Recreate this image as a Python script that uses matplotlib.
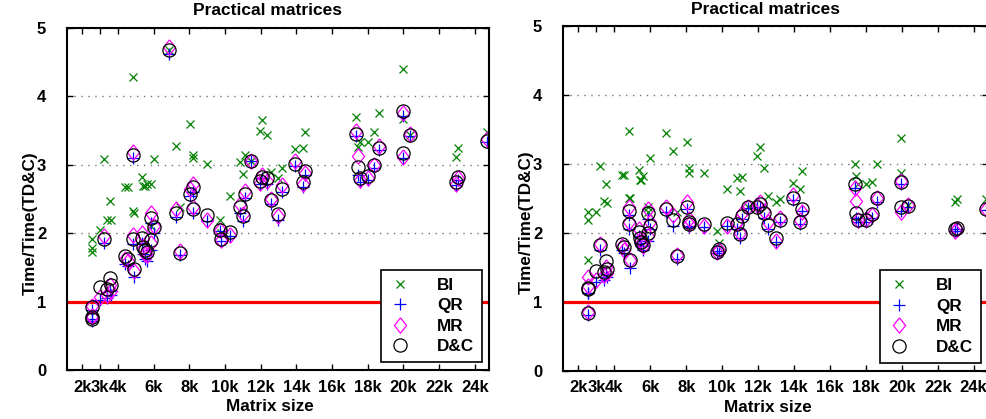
import matplotlib
matplotlib.use("Agg")
import matplotlib.pyplot as plt

plt.rcParams['font.family'] = ['Liberation Sans', 'DejaVu Sans']
plt.rcParams['font.weight'] = 'bold'

# matrix sizes (same test set in both panels)
sizes = [2540, 2540, 2540, 3000, 3200, 3400, 3550, 3600, 4400, 4550, 4820, 4840, 4880,
         5350, 5400, 5500, 5600, 5850, 5850, 6000, 6870, 7250, 7470, 8030, 8180, 8180,
         9000, 9700, 9800, 10270, 10830, 10980, 11100, 11430, 11950, 12100, 12330, 12550,
         12980, 13200, 13950, 14350, 14470, 17370, 17450, 17560, 18020, 18360, 18620,
         19980, 19980, 20360, 22970, 23060, 24690]

# left panel: time / time(TD&C)
bi_left = [1.92, 1.78, 1.72, 2.05, 3.09, 2.20, 2.47, 2.20, 2.68, 2.68, 4.28, 2.33, 2.30,
           2.82, 2.69, 2.69, 2.72, 2.72, 2.10, 3.09, 4.68, 3.28, 2.38, 3.59, 3.14, 3.10,
           3.01, 2.20, 2.00, 2.54, 3.04, 2.86, 3.15, 3.05, 3.50, 3.65, 3.43, 2.90,
           2.80, 2.96, 3.23, 3.25, 3.48, 3.70, 3.26, 3.33, 3.33, 3.48, 3.75,
           4.40, 3.67, 3.43, 3.12, 3.25, 3.48]
qr_left = [0.88, 0.74, 0.72, 1.03, 1.86, 1.05, 1.15, 1.10, 1.55, 1.52, 3.10, 1.84, 1.36,
           1.85, 1.70, 1.62, 1.60, 2.15, 1.75, 2.00, 4.62, 2.24, 1.68, 2.55, 2.60, 2.30,
           2.18, 2.03, 1.88, 1.96, 2.30, 2.18, 2.52, 3.05, 2.72, 2.80, 2.72, 2.42,
           2.20, 2.60, 2.98, 2.68, 2.85, 3.42, 2.85, 2.75, 2.78, 2.95, 3.22,
           3.72, 3.10, 3.42, 2.70, 2.78, 3.33]
mr_left = [0.94, 0.79, 0.77, 1.07, 1.96, 1.10, 1.25, 1.15, 1.62, 1.60, 3.18, 1.98, 1.45,
           2.00, 1.78, 1.70, 1.68, 2.30, 1.85, 2.10, 4.72, 2.35, 1.74, 2.65, 2.72, 2.38,
           2.20, 2.05, 1.90, 1.98, 2.42, 2.28, 2.62, 3.05, 2.74, 2.85, 2.77, 2.50,
           2.25, 2.70, 3.05, 2.72, 2.88, 3.50, 3.13, 2.78, 2.80, 3.00, 3.27,
           3.75, 3.12, 3.45, 2.72, 2.80, 3.37]
dc_left = [0.92, 0.78, 0.75, 1.21, 1.92, 1.18, 1.35, 1.25, 1.67, 1.62, 3.14, 1.91, 1.48,
           1.93, 1.80, 1.75, 1.72, 2.22, 1.90, 2.09, 4.68, 2.30, 1.71, 2.58, 2.68, 2.35,
           2.27, 2.05, 1.92, 2.02, 2.38, 2.25, 2.58, 3.05, 2.77, 2.82, 2.80, 2.48,
           2.28, 2.65, 3.01, 2.75, 2.91, 3.45, 2.97, 2.80, 2.84, 2.99, 3.25,
           3.79, 3.17, 3.43, 2.75, 2.82, 3.35]

# right panel
bi_right = [2.30, 2.18, 1.61, 2.30, 2.97, 2.46, 2.70, 2.43, 2.84, 2.84, 3.47, 2.51, 2.51,
            2.91, 2.76, 2.76, 2.82, 2.37, 2.30, 3.09, 3.45, 3.18, 2.30, 3.32, 2.94, 2.86,
            2.86, 2.03, 1.85, 2.64, 2.79, 2.61, 2.81, 2.38, 3.11, 3.24, 2.94, 2.53,
            2.45, 2.49, 2.72, 2.64, 2.90, 3.00, 2.82, 2.71, 2.71, 2.74, 2.99,
            3.37, 2.87, 2.40, 2.45, 2.49, 2.49]
qr_right = [1.13, 1.12, 0.80, 1.28, 1.75, 1.32, 1.40, 1.35, 1.75, 1.70, 2.25, 2.05, 1.49,
            1.95, 1.85, 1.80, 1.75, 2.20, 1.88, 2.05, 2.30, 2.10, 1.62, 2.35, 2.10, 2.08,
            2.08, 1.70, 1.73, 2.10, 2.05, 1.92, 2.20, 2.36, 2.37, 2.38, 2.22, 2.05,
            1.87, 2.15, 2.48, 2.12, 2.32, 2.65, 2.22, 2.15, 2.15, 2.22, 2.45,
            2.70, 2.32, 2.38, 2.03, 2.05, 2.33]
mr_right = [1.36, 1.22, 0.85, 1.32, 1.84, 1.38, 1.50, 1.42, 1.80, 1.75, 2.38, 2.15, 1.60,
            2.05, 1.90, 1.85, 1.80, 2.35, 1.95, 2.15, 2.38, 2.25, 1.68, 2.45, 2.20, 2.12,
            2.10, 1.72, 1.75, 2.10, 2.15, 2.00, 2.28, 2.38, 2.40, 2.45, 2.32, 2.15,
            1.88, 2.22, 2.55, 2.18, 2.30, 2.65, 2.46, 2.18, 2.20, 2.25, 2.50,
            2.75, 2.30, 2.40, 2.02, 2.05, 2.35]
dc_right = [1.19, 1.20, 0.83, 1.45, 1.82, 1.43, 1.59, 1.48, 1.84, 1.79, 2.32, 2.13, 1.61,
            2.01, 1.93, 1.87, 1.82, 2.29, 1.99, 2.10, 2.34, 2.19, 1.66, 2.38, 2.15, 2.13,
            2.12, 1.72, 1.77, 2.14, 2.13, 1.98, 2.24, 2.38, 2.38, 2.41, 2.29, 2.11,
            1.93, 2.18, 2.51, 2.15, 2.35, 2.70, 2.29, 2.19, 2.19, 2.27, 2.50,
            2.74, 2.37, 2.39, 2.05, 2.07, 2.35]

xticks = [2000, 3000, 4000, 6000, 8000, 10000, 12000, 14000, 16000, 18000, 20000, 22000, 24000]
xticklabels = ['2k', '3k', '4k', '6k', '8k', '10k', '12k', '14k', '16k', '18k', '20k', '22k', '24k']
legend_names = ['BI', 'QR', 'MR', 'D&C']

# slightly tall diamond, like the matlab one
diamond = [(0, 1), (0.8, 0), (0, -1), (-0.8, 0), (0, 1)]


def draw_panel(ax, bi, qr, mr, dc, title_pad):
    ax.axhline(1, color='red', lw=2.3, zorder=1)
    ax.plot(sizes, bi, ls='none', marker='x', color='#008000', ms=6, mew=0.9, label=legend_names[0])
    ax.plot(sizes, qr, ls='none', marker='+', color='blue', ms=8, mew=0.9, label=legend_names[1])
    ax.plot(sizes, mr, ls='none', marker=diamond, mfc='none', mec='magenta', ms=11, mew=0.9,
            label=legend_names[2])
    ax.plot(sizes, dc, ls='none', marker='o', mfc='none', mec='black', ms=9.5, mew=0.9,
            label=legend_names[3])

    ax.set_xlim(1140, 24800)
    ax.set_ylim(0, 5)
    ax.set_xticks(xticks)
    ax.set_xticklabels(xticklabels)
    ax.set_yticks([0, 1, 2, 3, 4, 5])
    ax.yaxis.grid(True, ls=(0, (1, 4)), color='0.45', lw=1)
    ax.set_axisbelow(True)
    ax.tick_params(direction='in', top=True, right=True, length=4, width=1, labelsize=12)
    ax.tick_params(axis='x', pad=7)
    ax.tick_params(axis='y', pad=15)
    for s in ax.spines.values():
        s.set_linewidth(1.5)

    ax.set_title('Practical matrices', fontsize=12.5, fontweight='bold', pad=title_pad, x=0.476)
    ax.set_xlabel('Matrix size', fontsize=12.3, fontweight='bold')
    ax.set_ylabel('Time/Time(TD&C)', fontsize=12.3, fontweight='bold')
    ax.xaxis.set_label_coords(0.481, -0.085)
    ax.yaxis.set_label_coords(-0.07, 0.43)

    leg = ax.legend(loc='lower right', bbox_to_anchor=(0.983, 0.023), borderaxespad=0,
                    numpoints=1, fancybox=False, framealpha=1, edgecolor='black',
                    prop={'weight': 'bold', 'size': 12.3}, handlelength=1.3,
                    handletextpad=1.5, labelspacing=0.33, borderpad=0.45)
    leg.get_frame().set_linewidth(1.2)


fig = plt.figure(figsize=(9.87, 4.19), dpi=100)
W, H = 987.0, 419.0
ax1 = fig.add_axes([67 / W, (H - 370) / H, 422 / W, 342 / H])
ax2 = fig.add_axes([563 / W, (H - 370.5) / H, 425 / W, 344.5 / H])

draw_panel(ax1, bi_left, qr_left, mr_left, dc_left, 9.5)
draw_panel(ax2, bi_right, qr_right, mr_right, dc_right, 8.5)

fig.savefig('out.png', dpi=100)
